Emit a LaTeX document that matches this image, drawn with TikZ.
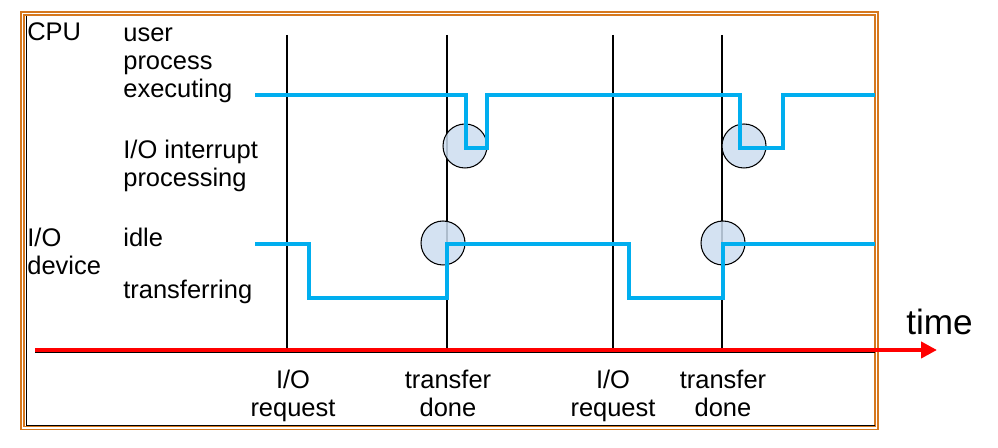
\documentclass[tikz,border=0pt]{standalone}
\usepackage{fontspec}
\setmainfont{Liberation Sans}
\usepackage{tikz}
\usetikzlibrary{arrows.meta}
\definecolor{signalblue}{RGB}{0,174,239}
\definecolor{circlefill}{RGB}{204,221,240}
\definecolor{frameorange}{RGB}{214,120,30}
\definecolor{timered}{RGB}{255,0,0}

\begin{document}
\begin{tikzpicture}[x=0.02cm, y=-0.02cm,
	every node/.style={inner sep=0pt, font=\fontsize{14.5}{16.2}\selectfont},
	rowtext/.style={anchor=base west, align=left},
	eventtext/.style={anchor=base, align=center},
	wave/.style={signalblue, line width=2.3pt, line join=miter},
	hit/.style={draw=black, line width=0.6pt, circle, minimum size=0.88cm, fill=circlefill, fill opacity=0.85}]
	\useasboundingbox (0,0) rectangle (998,448);
	
	% Draw the frame
	\draw[frameorange, double=white, double distance=0.9pt, line width=0.9pt] (22.5,13.5) rectangle (876.5,428);
	\draw[line width=0.5pt] (26,16) -- (26,425) -- (874.5,425);
	
	% Draw the event lines
	\def\ytop{35}
	\def\ybot{350}
	\foreach \name/\xpos/\w in {ioreqA/287/1.1pt, doneA/447/1.1pt, ioreqB/613/0.6pt, doneB/722/1.1pt} {
		\coordinate (\name top) at (\xpos, \ytop);
		\coordinate (\name bot) at (\xpos, \ybot);
		\draw[line width=\w] (\name top) -- (\name bot);
	}
	
	% Draw the time axis
	\coordinate (shadowstart) at (35,352.5);
	\coordinate (shadowend) at (875,352.5);
	\coordinate (axisstart) at (35,350);
	\coordinate (axisend) at (937,350);
	\draw[line width=0.6pt] (shadowstart) -- (shadowend);
	\draw[timered, line width=2.8pt, -{Triangle[length=9pt,width=9pt]}] (axisstart) -- (axisend);
	\node[anchor=base west, font=\fontsize{20}{24}\selectfont] (time) at (906,335) {time};
	
	% Draw the interrupt circles
	\foreach \name/\xpos/\ypos in {cpuA/465/146, cpuB/744/146, ioA/443/243, ioB/723/243}
		\node[hit] (\name) at (\xpos,\ypos) {};
	
	% Draw the CPU and I/O signals
	\draw[wave] (255,95) -| (466,148) -| (487,95) -| (740,148) -| (783,95) -- (875,95);
	\draw[wave] (255,244) -| (309,298) -| (447,244) -| (629,298) -| (723,244) -- (875,244);
	
	% Row labels (base is the last line)
	\node[rowtext] (cpu) at (27,41) {CPU};
	\node[rowtext] (userexec) at (123,98) {user\\process\\executing};
	\node[rowtext] (intproc) at (123,187) {I/O interrupt\\processing};
	\node[rowtext] (iodev) at (27,275) {I/O\\device};
	\node[rowtext] (idle) at (123,247) {idle};
	\node[rowtext] (transf) at (123,299) {transferring};
	
	% Event labels under the axis
	\foreach \name/\xpos/\txt in {ioreqA/293/{I/O\\request}, doneA/448/{transfer\\done}, ioreqB/613/{I/O\\request}, doneB/723/{transfer\\done}}
		\node[eventtext] (\name text) at (\xpos,417) {\txt};
\end{tikzpicture}
\end{document}
